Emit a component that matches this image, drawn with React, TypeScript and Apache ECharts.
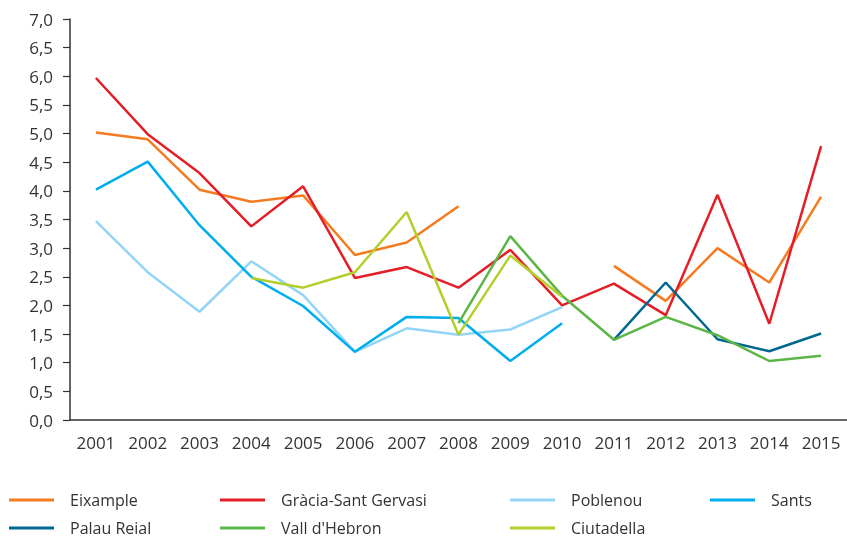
import React, { useEffect, useRef } from "react";
import * as echarts from "echarts";

const years = ["2001", "2002", "2003", "2004", "2005", "2006", "2007", "2008", "2009", "2010", "2011", "2012", "2013", "2014", "2015"];
const eixample = [5.02, 4.9, 4.02, 3.81, 3.92, 2.88, 3.1, 3.73, null, null, 2.69, 2.08, 3.0, 2.4, 3.9];
const gracia = [5.97, 4.99, 4.31, 3.38, 4.08, 2.48, 2.67, 2.31, 2.97, 2.0, 2.38, 1.83, 3.93, 1.68, 4.78];
const poblenou = [3.47, 2.58, 1.89, 2.77, 2.18, 1.19, 1.6, 1.49, 1.58, 1.97, null, null, null, null, null];
const sants = [4.02, 4.51, 3.4, 2.5, 1.99, 1.19, 1.8, 1.78, 1.03, 1.69, null, null, null, null, null];
const palauReial = [null, null, null, null, null, null, null, null, null, null, 1.4, 2.4, 1.41, 1.2, 1.51];
const vallHebron = [null, null, null, null, null, null, null, 1.69, 3.21, 2.17, 1.4, 1.8, 1.48, 1.03, 1.12];
const ciutadella = [null, null, null, 2.48, 2.31, 2.58, 3.63, 1.49, 2.87, 2.15, null, null, null, null, null];

const seriesNames = ["Eixample", "Gràcia-Sant Gervasi", "Poblenou", "Sants", "Palau Reial", "Vall d'Hebron", "Ciutadella"];
const seriesData = [eixample, gracia, poblenou, sants, palauReial, vallHebron, ciutadella];
const colors = ["#f47b20", "#e41e26", "#93d5f6", "#00aeef", "#00678f", "#5cb646", "#b3cf2c"];

const legendColumns = [
  { left: 9, names: ["Eixample", "Palau Reial"] },
  { left: 220, names: ["Gràcia-Sant Gervasi", "Vall d'Hebron"] },
  { left: 510, names: ["Poblenou", "Ciutadella"] },
  { left: 710, names: ["Sants"] },
];

const FONT = "'Open Sans', 'Noto Sans', sans-serif";

export default function App() {
  const ref = useRef<HTMLDivElement>(null);
  useEffect(() => {
    if (!ref.current) return;
    const chart = echarts.init(ref.current, null, { renderer: "svg" });
    chart.setOption({
      animation: false,
      color: colors,
      grid: { left: 70, top: 19, width: 779, height: 401, containLabel: false },
      legend: legendColumns.map((c) => ({
        orient: "vertical",
        left: c.left,
        top: 491,
        height: 60,
        data: c.names,
        icon: "rect",
        itemWidth: 45,
        itemHeight: 3,
        itemGap: 10,
        padding: 0,
        selectedMode: false,
        textStyle: {
          fontFamily: FONT,
          fontSize: 16,
          color: "#333",
          lineHeight: 18,
          padding: [0, 0, 0, 11],
        },
      })),
      xAxis: {
        type: "category",
        data: years,
        boundaryGap: true,
        axisLine: { lineStyle: { color: "#333", width: 1.5 } },
        axisTick: { show: false },
        axisLabel: { fontFamily: FONT, fontSize: 17, color: "#333", margin: 14 },
        splitLine: { show: false },
      },
      yAxis: {
        type: "value",
        min: 0,
        max: 7,
        interval: 0.5,
        axisLine: { show: true, lineStyle: { color: "#333", width: 1.5 } },
        axisTick: { show: true, length: 7, lineStyle: { color: "#333", width: 1.2 } },
        axisLabel: {
          fontFamily: FONT,
          fontSize: 17,
          color: "#333",
          margin: 17,
          formatter: (v: number) => v.toFixed(1).replace(".", ","),
        },
        splitLine: { show: false },
      },
      series: seriesNames.map((name, i) => ({
        name,
        type: "line",
        data: seriesData[i],
        symbol: "none",
        showSymbol: false,
        connectNulls: false,
        lineStyle: { width: 2.5, color: colors[i] },
        itemStyle: { color: colors[i] },
      })),
    });
    return () => chart.dispose();
  }, []);
  return <div ref={ref} style={{ position: "fixed", left: 0, top: 0, width: 847, height: 539 }} />;
}
